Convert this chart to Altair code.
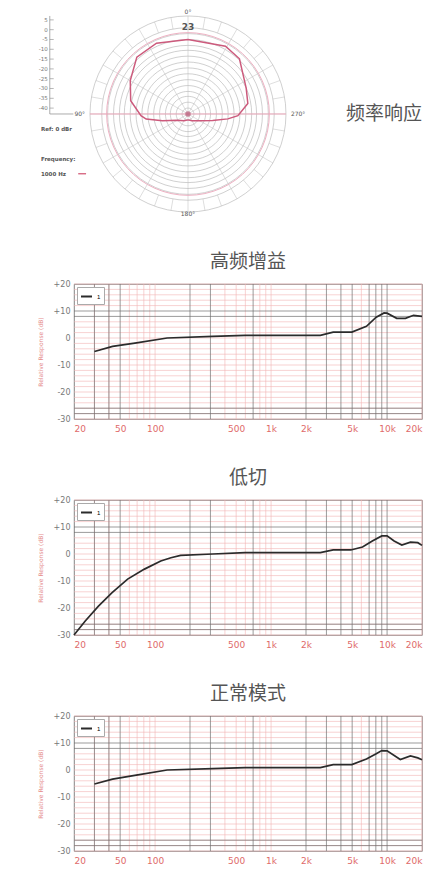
import altair as alt
import pandas as pd

# ---------------- polar pattern (top) ----------------
polar_angle = [-180, -150, -120, -105, -97, -92, -77, -60, -42, -24, 0, 29, 43, 66, 80, 92, 97, 105, 120, 150, 180]
polar_radius = [0.06, 0.08, 0.13, 0.27, 0.43, 0.48, 0.60, 0.68, 0.78, 0.79, 0.76, 0.79, 0.77, 0.65, 0.62, 0.51, 0.41, 0.26, 0.14, 0.08, 0.06]
ring_radii = [0.06, 0.12, 0.18, 0.23, 0.29, 0.35, 0.41, 0.47, 0.53, 0.59, 0.65, 0.70, 0.76, 0.82, 0.88, 1.0]
ref_ring = [0.83]
circle_steps = list(range(0, 361, 6))
inner_spokes = [0, 30, 60, 90, 120, 150, 180, 210, 240, 270, 300, 330]
band_spokes = list(range(0, 360, 10))
scale_labels = ["5", "0", "-5", "-10", "-15", "-20", "-25", "-30", "-35", "-40"]
scale_label_y = [0.96, 0.86, 0.76, 0.66, 0.56, 0.46, 0.36, 0.26, 0.16, 0.06]
ann_text = ["0°", "23", "180°", "90°", "270°", "Ref: 0 dBr", "Frequency:", "1000 Hz"]
ann_x = [0.0, 0.0, 0.0, -1.05, 1.05, -1.5, -1.5, -1.5]
ann_y = [1.04, 0.89, -1.02, 0.0, 0.0, -0.15, -0.46, -0.61]
ann_align = ["center", "center", "center", "right", "left", "left", "left", "left"]
ann_size = [6, 9, 6, 6, 6, 5.5, 5.5, 5.5]
ann_weight = ["normal", "bold", "normal", "normal", "normal", "bold", "bold", "bold"]
side_label = "频率响应"

# ---------------- frequency responses ----------------
hf_freq = [30, 43, 67, 127, 314, 598, 2660, 3430, 4970, 6640, 8060, 9420, 10000, 12100, 14400, 16900, 20000]
hf_db = [-5.0, -3.1, -1.9, 0.0, 0.6, 1.0, 1.0, 2.2, 2.2, 4.3, 7.7, 9.3, 9.2, 7.3, 7.3, 8.4, 8.0]

lc_freq = [20, 25, 32.5, 42.6, 58, 81, 112, 137, 166, 314, 598, 2660, 3430, 4870, 6140, 7460, 9000, 10000, 11500, 13400, 15900, 18400, 20000]
lc_db = [-30, -24.8, -19.3, -14.3, -9.3, -5.6, -2.6, -1.4, -0.5, 0.0, 0.5, 0.5, 1.5, 1.5, 2.6, 4.8, 6.7, 6.7, 4.8, 3.3, 4.4, 4.2, 3.2]

nm_freq = [30, 43, 71, 127, 314, 598, 2660, 3430, 4970, 6640, 8060, 9000, 10000, 13000, 15900, 18400, 20000]
nm_db = [-5.2, -3.4, -1.8, 0.0, 0.5, 0.9, 0.9, 2.0, 2.0, 4.1, 6.0, 7.2, 7.1, 3.9, 5.2, 4.5, 3.8]

titles = ["高频增益", "低切", "正常模式"]
x_ticks = [20, 50, 100, 500, 1000, 2000, 5000, 10000, 20000]
y_ticks = [-30, -20, -10, 0, 10, 20]
minor_x = [30, 40, 60, 70, 80, 90, 100, 400, 500, 600, 800, 900, 1000, 6000, 20000]
major_x = [30, 40, 50, 200, 300, 700, 2000, 3000, 4000, 5000, 7000, 8000, 9000, 10000]
minor_y = [-30, -28, -26, -24, -22, -20, -18, -16, -14, -12, -10, -8, -6, -4, -2, 0, 2, 4, 6, 12, 14, 16, 18, 20]
major_y = [10, 8, -26, -28]

CJK = "Noto Sans CJK SC"

# ---------------- polar chart ----------------
W_TOP, H_TOP = 350, 208
px_scale = alt.Scale(domain=[-1.163, 2.408], nice=False, zero=False)
py_scale = alt.Scale(domain=[-1.051, 1.071], nice=False, zero=False)
X = lambda f: alt.X(f, type="quantitative", scale=px_scale, axis=None)
Y = lambda f: alt.Y(f, type="quantitative", scale=py_scale, axis=None)

rings_df = pd.DataFrame([{"ring": i, "r": r, "a": a} for i, r in enumerate(ring_radii) for a in circle_steps])
rings = alt.Chart(rings_df).transform_calculate(
    px="datum.r*sin(datum.a*PI/180)", py="datum.r*cos(datum.a*PI/180)"
).mark_line(color="#b0b0b0", strokeWidth=0.6).encode(
    x=X("px"), y=Y("py"), detail="ring:N", order="a:Q")

ref_df = pd.DataFrame([{"r": r, "a": a} for r in ref_ring for a in circle_steps])
ref = alt.Chart(ref_df).transform_calculate(
    px="datum.r*sin(datum.a*PI/180)", py="datum.r*cos(datum.a*PI/180)"
).mark_line(color="#eeb0c2", strokeWidth=1.0).encode(x=X("px"), y=Y("py"), order="a:Q")

spoke_df = pd.DataFrame([{"a": a, "r0": 0.0, "r1": 0.88} for a in inner_spokes] +
                        [{"a": a, "r0": 0.88, "r1": 1.0} for a in band_spokes])
spokes = alt.Chart(spoke_df).transform_calculate(
    x1="datum.r0*sin(datum.a*PI/180)", y1="datum.r0*cos(datum.a*PI/180)",
    x2="datum.r1*sin(datum.a*PI/180)", y2="datum.r1*cos(datum.a*PI/180)"
).mark_rule(color="#bcbcbc", strokeWidth=0.5).encode(x=X("x1"), y=Y("y1"), x2="x2:Q", y2="y2:Q")

axis_df = pd.DataFrame({"r0": [-1.0], "r1": [1.0]})
pink_axis = alt.Chart(axis_df).transform_calculate(
    x1="datum.r0", y1="0", x2="datum.r1", y2="0"
).mark_rule(color="#efa8bc", strokeWidth=1.0).encode(x=X("x1"), y=Y("y1"), x2="x2:Q", y2="y2:Q")

curve_df = pd.DataFrame({"a": polar_angle, "r": polar_radius})
curve = alt.Chart(curve_df).transform_calculate(
    px="datum.r*sin(datum.a*PI/180)", py="datum.r*cos(datum.a*PI/180)"
).mark_line(color="#cc5a7c", strokeWidth=1.5).encode(x=X("px"), y=Y("py"), order="a:Q")

scale_line_df = pd.DataFrame({"x1": [-1.41, -1.41], "y1": [1.0, 0.0], "x2": [-1.41, -1.17], "y2": [0.0, 0.0]})
scale_lines = alt.Chart(scale_line_df).mark_rule(color="#888", strokeWidth=0.7).encode(
    x=X("x1"), y=Y("y1"), x2="x2:Q", y2="y2:Q")
scale_txt = alt.Chart(pd.DataFrame({"t": scale_labels, "y": scale_label_y, "x": [-1.43] * len(scale_labels)})).mark_text(
    align="right", fontSize=5.5, color="#777", font="DejaVu Sans").encode(x=X("x"), y=Y("y"), text="t:N")
scale_ticks = alt.Chart(pd.DataFrame({"y": scale_label_y, "x1": [-1.41] * len(scale_label_y), "x2": [-1.37] * len(scale_label_y)})).mark_rule(
    color="#888", strokeWidth=0.6).encode(x=X("x1"), x2="x2:Q", y=Y("y"))

ann_df = pd.DataFrame({"t": ann_text, "x": ann_x, "y": ann_y, "al": ann_align, "s": ann_size, "w": ann_weight})
ann_layers = []
for al in ["center", "right", "left"]:
    for w in ["normal", "bold"]:
        sub = ann_df[(ann_df.al == al) & (ann_df.w == w)]
        if len(sub) == 0:
            continue
        ann_layers.append(alt.Chart(sub).mark_text(align=al, baseline="middle", color="#555", font="DejaVu Sans", fontWeight=w).encode(
            x=X("x"), y=Y("y"), text="t:N", size=alt.Size("s:Q", scale=None)))
freq_swatch = alt.Chart(pd.DataFrame({"x1": [-1.12], "x2": [-1.04], "y": [-0.61]})).mark_rule(color="#d0506e", strokeWidth=1.2).encode(
    x=X("x1"), x2="x2:Q", y=Y("y"))
side = alt.Chart(pd.DataFrame({"t": [side_label], "x": [2.0], "y": [0.0]})).mark_text(
    fontSize=19, font=CJK, color="#555", align="center", baseline="middle").encode(x=X("x"), y=Y("y"), text="t:N")
center_dot = alt.Chart(pd.DataFrame({"x": [0.0], "y": [0.0]})).mark_point(filled=True, color="#b85a78", size=30, opacity=0.7).encode(x=X("x"), y=Y("y"))

top = alt.layer(rings, spokes, ref, pink_axis, curve, center_dot, scale_lines, scale_ticks, scale_txt, freq_swatch, side, *ann_layers).properties(
    width=W_TOP, height=H_TOP, view=alt.ViewBackground(stroke="transparent"))

# ---------------- frequency response panels ----------------
x_axis = alt.Axis(
    values=x_ticks, title=None, grid=False, ticks=False, domain=False,
    labelExpr="datum.value >= 1000 ? (datum.value / 1000) + 'k' : '' + datum.value",
    labelColor="#e06a6a", labelFontSize=9, labelPadding=5, labelFont="DejaVu Sans", labelFlush=True)
y_axis = alt.Axis(
    values=y_ticks, title="Relative Response (dB)", grid=False, ticks=False, domain=False,
    labelExpr="datum.value > 0 ? '+' + datum.value : '' + datum.value",
    labelColor="#777", labelFontSize=8, labelPadding=4, labelFont="DejaVu Sans",
    titleColor="#e58b8b", titleFontSize=6, titleFontWeight="normal", titleFont="DejaVu Sans",
    minExtent=20, titlePadding=10)


def fr_panel(title, freq, db):
    df = pd.DataFrame({"freq": freq, "db": db, "series": ["1"] * len(freq)})
    xs = alt.Scale(type="log", domain=[20, 20000], nice=False)
    ys = alt.Scale(domain=[-30, 20], nice=False, zero=False)
    vminor = alt.Chart(pd.DataFrame({"freq": minor_x})).mark_rule(color="#f1b3b3", strokeWidth=0.6).encode(
        x=alt.X("freq:Q", scale=xs, axis=x_axis))
    hminor = alt.Chart(pd.DataFrame({"db": minor_y})).mark_rule(color="#f1b3b3", strokeWidth=0.6).encode(
        y=alt.Y("db:Q", scale=ys, axis=y_axis))
    vmajor = alt.Chart(pd.DataFrame({"freq": major_x})).mark_rule(color="#707070", strokeWidth=0.7).encode(
        x=alt.X("freq:Q", scale=xs, axis=x_axis))
    hmajor = alt.Chart(pd.DataFrame({"db": major_y})).mark_rule(color="#707070", strokeWidth=0.7).encode(
        y=alt.Y("db:Q", scale=ys, axis=y_axis))
    line = alt.Chart(df).mark_line(strokeWidth=1.7).encode(
        x=alt.X("freq:Q", scale=xs, axis=x_axis),
        y=alt.Y("db:Q", scale=ys, axis=y_axis),
        color=alt.Color("series:N", scale=alt.Scale(range=["#2b2b2b"]), legend=alt.Legend(
            orient="top-left", title=None, symbolType="stroke", symbolStrokeWidth=2, symbolSize=120,
            labelFontSize=6, fillColor="white", strokeColor="#aaa", padding=3, offset=3)),
    )
    return alt.layer(vminor, hminor, vmajor, hmajor, line).properties(
        width=348, height=135,
        view=alt.ViewBackground(stroke="#666", strokeWidth=0.8, fill="white"),
        title=alt.TitleParams(title, fontSize=19, font=CJK, fontWeight="normal", color="#555", offset=8))

p1 = fr_panel(titles[0], hf_freq, hf_db)
p2 = fr_panel(titles[1], lc_freq, lc_db)
p3 = fr_panel(titles[2], nm_freq, nm_db)

chart = alt.vconcat(top, p1, p2, p3, spacing=34).resolve_scale(color="independent").resolve_legend(color="independent").properties(
    padding={"left": 28, "top": 0, "right": 0, "bottom": 0}, background="white"
).configure_view(stroke="transparent")

chart.save("out.html", embed_options={"renderer": "svg", "actions": False})
